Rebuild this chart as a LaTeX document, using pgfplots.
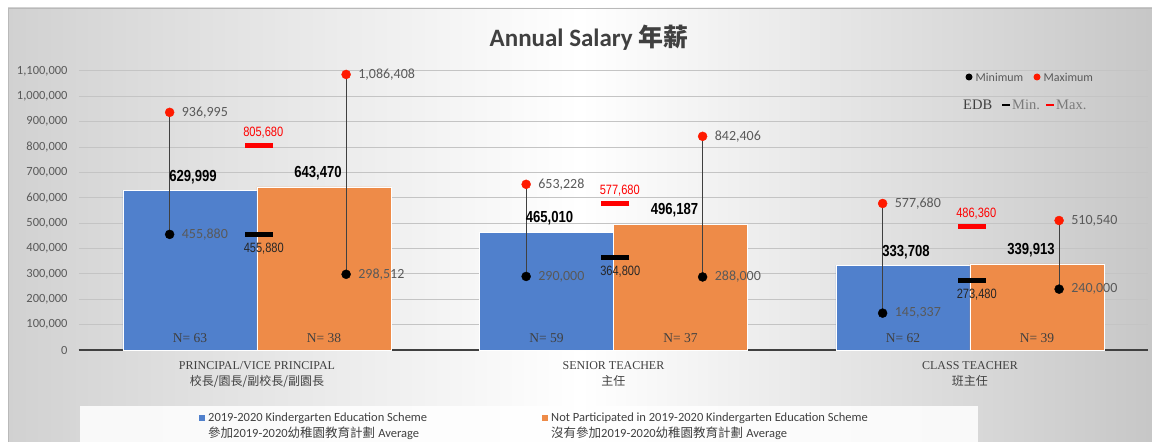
\documentclass[border=0pt]{standalone}
\usepackage{fontspec}
\usepackage{graphicx}
\usepackage{pgfplots}
\pgfplotsset{compat=1.18}
\setmainfont{Liberation Serif}
\newfontfamily\calib{Carlito}
\newfontfamily\arialf{Liberation Sans}
\newfontfamily\cjk{Noto Sans CJK TC}
\definecolor{kblue}{HTML}{5080CC}
\definecolor{korange}{HTML}{EE8B48}
\definecolor{tgray}{HTML}{595959}
\definecolor{dgray}{HTML}{404040}
\definecolor{mred}{HTML}{FF1A00}
\definecolor{gridc}{HTML}{C4C4C4}
\newcommand{\avg}[1]{\scalebox{0.82}[1]{\arialf\bfseries\fontsize{16}{18}\selectfont #1}}
\newcommand{\edb}[1]{\scalebox{0.82}[1]{\arialf\fontsize{13.5}{16}\selectfont #1}}
\begin{document}
\begin{tikzpicture}[x=1pt,y=1pt]
\useasboundingbox (0,0) rectangle (1152,442);
\fill[white] (0,0) rectangle (1152,442);
\shade[left color=gray!36, right color=gray!44, middle color=white] (8,0) rectangle (1152,434);
\draw[gray!55, line width=0.8pt] (8,0) -- (8,434) -- (1152,434);
\fill[white, opacity=0.85] (80,0) rectangle (978,36);
\begin{axis}[
  at={(78.75pt,92pt)}, anchor=south west,
  scale only axis, width=1069.5pt, height=279pt,
  xmin=-0.5, xmax=2.5, ymin=0, ymax=1100000,
  clip=false,
  axis x line*=bottom, axis y line*=left,
  y axis line style={draw=none},
  x axis line style={-, line width=1.5pt, dgray},
  xtick={0,1,2},
  xticklabels={{PRINCIPAL/VICE PRINCIPAL\\{\cjk 校長/園長/副校長/副園長}},{SENIOR TEACHER\\{\cjk 主任}},{CLASS TEACHER\\{\cjk 班主任}}},
  xticklabel style={align=center, font=\fontsize{12}{16}\selectfont, text=dgray, inner sep=0pt, yshift=-11.5pt},
  ytick={0,100000,...,1100000},
  scaled y ticks=false,
  yticklabel={\pgfmathprintnumber[fixed,precision=0,1000 sep={,},assume math mode=true]{\tick}},
  yticklabel style={font=\calib\fontsize{12.5}{14}\selectfont, text=tgray, inner sep=0pt, xshift=-11pt},
  major tick length=0pt,
  ymajorgrids, major grid style={gridc, line width=1pt},
]
% bars
\addplot[ybar, bar width=0.376, bar shift=0pt, fill=kblue, draw=white, line width=0.4pt,
  nodes near coords={\avg{\pgfplotspointmeta}}, point meta=explicit symbolic,
  every node near coord/.append style={anchor=south, inner sep=0pt, yshift=6.5pt, xshift=3pt, text=black}]
  coordinates {(-0.188,629999)[629{,}999] (0.812,465010)[465{,}010] (1.812,333708)[333{,}708]};
\addplot[ybar, bar width=0.376, bar shift=0pt, fill=korange, draw=white, line width=0.4pt,
  nodes near coords={\avg{\pgfplotspointmeta}}, point meta=explicit symbolic,
  every node near coord/.append style={anchor=south, inner sep=0pt, yshift=6.5pt, xshift=-6pt, text=black}]
  coordinates {(0.188,643470)[643{,}470] (1.188,496187)[496{,}187] (2.188,339913)[339{,}913]};
% N labels
\addplot[draw=none, nodes near coords, point meta=explicit symbolic,
  every node near coord/.append style={anchor=base, inner sep=0pt, yshift=7.5pt, text=dgray, font=\fontsize{13.5}{15}\selectfont}]
  coordinates {(-0.188,0)[N= 63] (0.188,0)[N= 38] (0.812,0)[N= 59] (1.188,0)[N= 37] (1.812,0)[N= 62] (2.188,0)[N= 39]};
% min-max lines
\addplot[dgray, line width=1.2pt] coordinates {(-0.245,455880) (-0.245,936995)};
\addplot[dgray, line width=1.2pt] coordinates {(0.25,298512) (0.25,1086408)};
\addplot[dgray, line width=1.2pt] coordinates {(0.755,290000) (0.755,653228)};
\addplot[dgray, line width=1.2pt] coordinates {(1.25,288000) (1.25,842406)};
\addplot[dgray, line width=1.2pt] coordinates {(1.755,145337) (1.755,577680)};
\addplot[dgray, line width=1.2pt] coordinates {(2.25,240000) (2.25,510540)};
% minimum markers
\addplot[only marks, mark=*, mark size=4.5pt, mark options={fill=black, draw=black},
  nodes near coords, point meta=explicit symbolic,
  every node near coord/.append style={anchor=west, inner sep=0pt, xshift=12pt, text=tgray, font=\calib\fontsize{14}{15}\selectfont}]
  coordinates {(-0.245,455880)[455{,}880] (0.25,298512)[298{,}512] (0.755,290000)[290{,}000] (1.25,288000)[288{,}000] (1.755,145337)[145{,}337] (2.25,240000)[240{,}000]};
% maximum markers
\addplot[only marks, mark=*, mark size=4.5pt, mark options={fill=mred, draw=mred},
  nodes near coords, point meta=explicit symbolic,
  every node near coord/.append style={anchor=west, inner sep=0pt, xshift=12pt, text=tgray, font=\calib\fontsize{14}{15}\selectfont}]
  coordinates {(-0.245,936995)[936{,}995] (0.25,1086408)[1{,}086{,}408] (0.755,653228)[653{,}228] (1.25,842406)[842{,}406] (1.755,577680)[577{,}680] (2.25,510540)[510{,}540]};
% EDB max
\addplot[only marks, mark=-, mark size=14pt, mark options={line width=5pt, draw=red},
  nodes near coords={\edb{\pgfplotspointmeta}}, point meta=explicit symbolic,
  every node near coord/.append style={anchor=south, inner sep=0pt, yshift=5pt, xshift=4.5pt, text=red}]
  coordinates {(0.005,805680)[805{,}680] (1.005,577680)[577{,}680] (2.005,486360)[486{,}360]};
% EDB min
\addplot[only marks, mark=-, mark size=14pt, mark options={line width=5pt, draw=black},
  nodes near coords={\edb{\pgfplotspointmeta}}, point meta=explicit symbolic,
  every node near coord/.append style={anchor=north, inner sep=0pt, yshift=-6pt, xshift=5pt, text=black!85}]
  coordinates {(0.005,455880)[455{,}880] (1.005,364800)[364{,}800] (2.005,273480)[273{,}480]};
\end{axis}
% title
\node[text=dgray] at (589,404) {\calib\bfseries\fontsize{25}{28}\selectfont Annual Salary {\cjk 年薪}};
% top-right legend
\fill[black] (969,365) circle (3.5);
\node[anchor=west, inner sep=0pt, text=tgray] at (975.5,365) {\calib\fontsize{12}{14}\selectfont Minimum};
\fill[mred] (1037,365) circle (3.5);
\node[anchor=west, inner sep=0pt, text=tgray] at (1043.5,365) {\calib\fontsize{12}{14}\selectfont Maximum};
\node[anchor=west, inner sep=0pt, text=dgray] at (963,337) {\fontsize{14.5}{16}\selectfont EDB};
\draw[black, line width=2.5pt] (1002,337) -- (1010,337);
\node[anchor=west, inner sep=0pt, text=tgray!80] at (1012,337) {\fontsize{14.5}{16}\selectfont Min.};
\draw[red, line width=2.5pt] (1046,337) -- (1054,337);
\node[anchor=west, inner sep=0pt, text=tgray!80] at (1056,337) {\fontsize{14.5}{16}\selectfont Max.};
% bottom legend
\fill[kblue] (199,21) rectangle (205,27);
\node[anchor=west, inner sep=0pt, text=dgray] at (208,23.5) {\calib\fontsize{12.5}{14}\selectfont 2019-2020 Kindergarten Education Scheme};
\node[anchor=west, inner sep=0pt, text=dgray] at (208,8.5) {\fontsize{12.5}{14}\selectfont{\cjk 參加}{\calib 2019-2020}{\cjk 幼稚園教育計劃} {\calib Average}};
\fill[korange] (542,21) rectangle (548,27);
\node[anchor=west, inner sep=0pt, text=dgray] at (551,23.5) {\calib\fontsize{12.5}{14}\selectfont Not Participated in 2019-2020 Kindergarten Education Scheme};
\node[anchor=west, inner sep=0pt, text=dgray] at (551,8.5) {\fontsize{12.5}{14}\selectfont{\cjk 沒有參加}{\calib 2019-2020}{\cjk 幼稚園教育計劃} {\calib Average}};
\end{tikzpicture}
\end{document}
